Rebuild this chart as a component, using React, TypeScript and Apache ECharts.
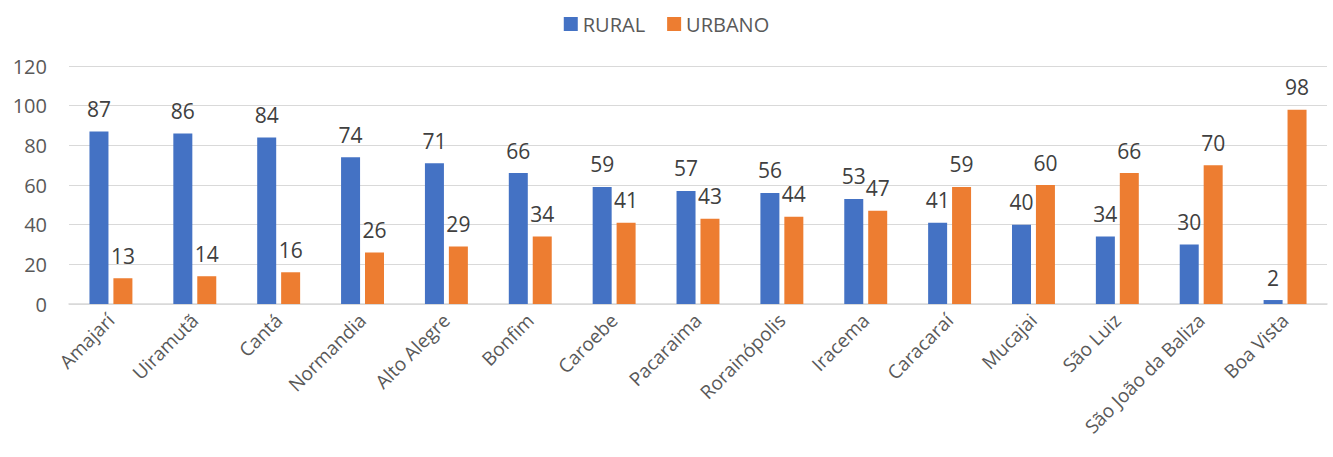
import React, { useEffect, useRef } from "react";
import * as echarts from "echarts";

const categories = ["Amajarí", "Uiramutã", "Cantá", "Normandia", "Alto Alegre", "Bonfim", "Caroebe", "Pacaraima", "Rorainópolis", "Iracema", "Caracaraí", "Mucajai", "São Luiz", "São João da Baliza", "Boa Vista"];
const rural = [87, 86, 84, 74, 71, 66, 59, 57, 56, 53, 41, 40, 34, 30, 2];
const urbano = [13, 14, 16, 26, 29, 34, 41, 43, 44, 47, 59, 60, 66, 70, 98];
const yTicks = { min: 0, max: 120, interval: 20 };

const FONT = "'Open Sans', 'Noto Sans', sans-serif";

export default function App() {
  const ref = useRef<HTMLDivElement>(null);
  useEffect(() => {
    if (!ref.current) return;
    const chart = echarts.init(ref.current, null, { renderer: "svg" });
    const labelStyle = {
      show: true,
      position: "top" as const,
      distance: 12,
      fontSize: 21,
      color: "#404040",
      fontFamily: FONT,
    };
    chart.setOption({
      animation: false,
      textStyle: { fontFamily: FONT },
      legend: {
        top: 9,
        left: "center",
        itemWidth: 14,
        itemHeight: 14,
        itemGap: 22,
        icon: "rect",
        textStyle: { fontSize: 20, color: "#595959", fontFamily: FONT },
        data: ["RURAL", "URBANO"],
      },
      grid: { left: 69, right: 6, top: 66, bottom: 153, containLabel: false },
      xAxis: {
        type: "category",
        data: categories,
        axisLine: { show: true, lineStyle: { color: "#d9d9d9", width: 1.5 } },
        axisTick: { show: false },
        axisLabel: {
          rotate: 45,
          fontSize: 19,
          color: "#595959",
          fontFamily: FONT,
          margin: 13,
          interval: 0,
        },
      },
      yAxis: {
        type: "value",
        min: yTicks.min,
        max: yTicks.max,
        interval: yTicks.interval,
        axisLine: { show: false },
        axisTick: { show: false },
        splitLine: { lineStyle: { color: "#d9d9d9", width: 1.2 } },
        axisLabel: { fontSize: 20, color: "#595959", fontFamily: FONT, margin: 22 },
      },
      series: [
        {
          name: "RURAL",
          type: "bar",
          data: rural,
          barWidth: 19,
          barGap: "26%",
          itemStyle: { color: "#4472c4" },
          label: labelStyle,
        },
        {
          name: "URBANO",
          type: "bar",
          data: urbano,
          barWidth: 19,
          itemStyle: { color: "#ed7d31" },
          label: labelStyle,
        },
      ],
    });
    return () => chart.dispose();
  }, []);
  return (
    <div
      ref={ref}
      style={{ position: "fixed", left: 0, top: 0, width: 1333, height: 457, background: "#fff" }}
    />
  );
}
